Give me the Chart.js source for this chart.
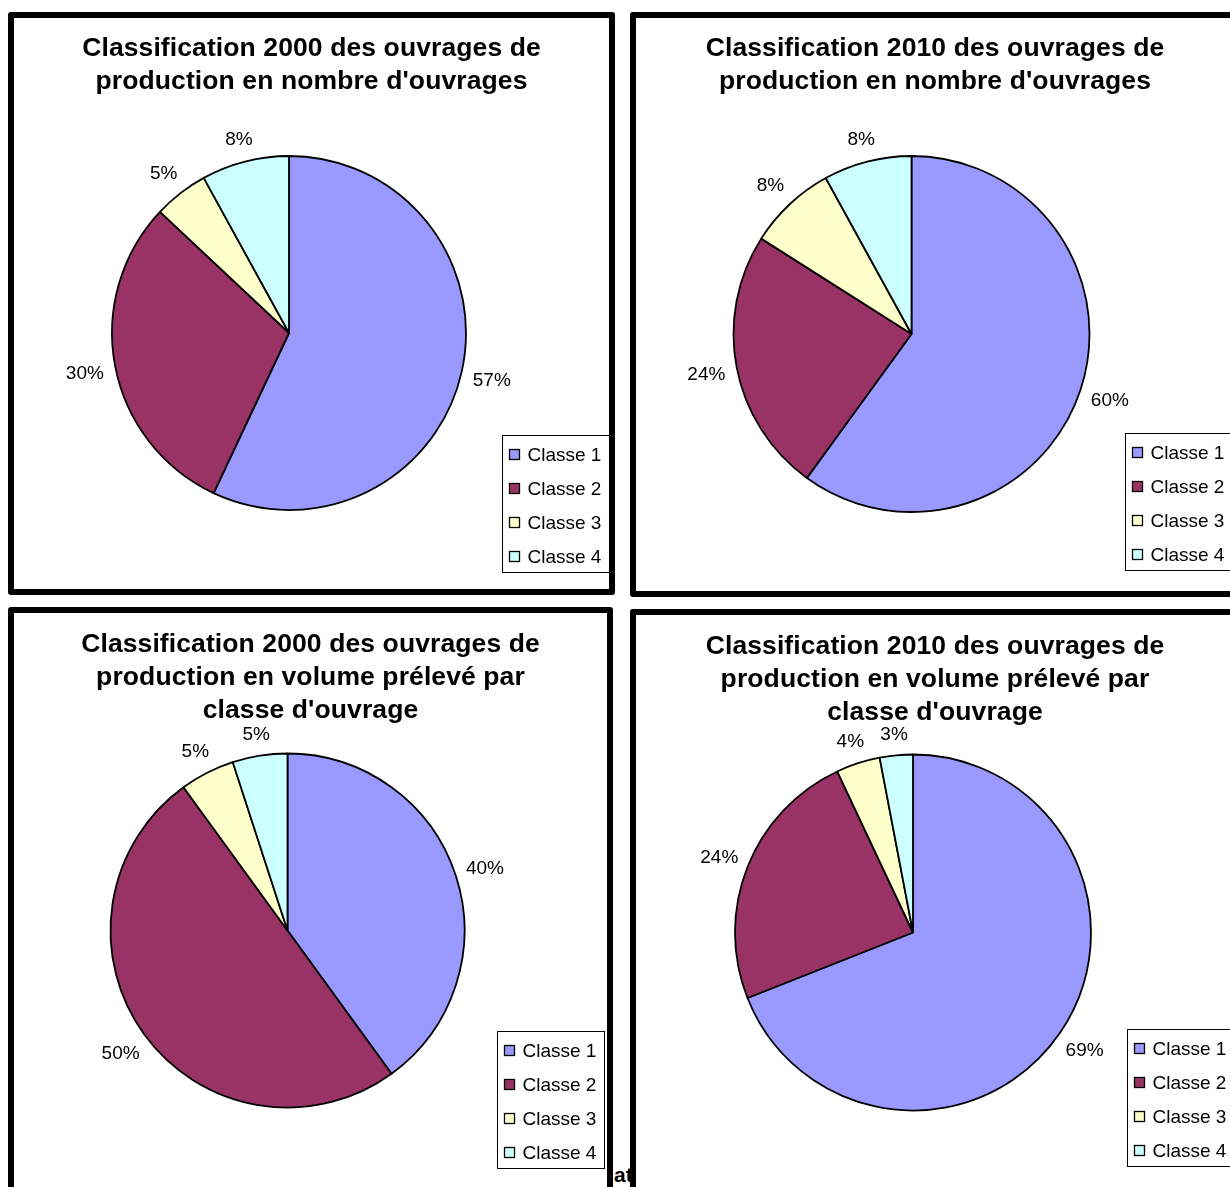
<!DOCTYPE html>
<html lang="fr">
<head>
<meta charset="utf-8">
<title>Classification des ouvrages de production</title>
<script src="https://cdn.jsdelivr.net/npm/chart.js@4.4.1/dist/chart.umd.min.js"></script>
<style>
  html, body { margin: 0; padding: 0; background: #fff; }
  body {
    position: relative; width: 1230px; height: 1187px; overflow: hidden;
    font-family: 'Liberation Sans', Arial, sans-serif; color: #000;
  }
  .panel {
    position: absolute; box-sizing: border-box; border: 6px solid #000;
    border-radius: 3px; background: #fff; overflow: hidden; z-index: 1;
  }
  .panel canvas { position: absolute; left: 0; top: 0; }
  .panel .title {
    position: absolute; left: 0; right: 0; text-align: center; white-space: nowrap;
    font-weight: bold; font-size: 26.5px; letter-spacing: 0.1px; line-height: 33px; z-index: 2;
  }
  .stray {
    position: absolute; left: 614px; top: 1163px; z-index: 0;
    font-weight: bold; font-size: 21px;
  }
</style>
</head>
<body>
<div class="stray">at</div>
<script>
// Classes d'ouvrages
const categories = ['Classe 1', 'Classe 2', 'Classe 3', 'Classe 4'];
const classColors = ['#9999FF', '#993366', '#FFFFCC', '#CCFFFF'];

// Parts (%) par classe
const nombre2000 = [57, 30, 5, 8];
const nombre2010 = [60, 24, 8, 8];
const volume2000 = [40, 50, 5, 5];
const volume2010 = [69, 24, 4, 3];

const titles = [
  ['Classification 2000 des ouvrages de', "production en nombre d'ouvrages"],
  ['Classification 2010 des ouvrages de', "production en nombre d'ouvrages"],
  ['Classification 2000 des ouvrages de', 'production en volume prélevé par', "classe d'ouvrage"],
  ['Classification 2010 des ouvrages de', 'production en volume prélevé par', "classe d'ouvrage"]
];

const FONT = "'Liberation Sans', Arial, sans-serif";
const BORDER = 6;

// Panel frames and pie placement, in page pixels
const panels = [
  { values: nombre2000, title: titles[0], left: 8,   top: 12,  width: 607, height: 583, titleTop: 12.5, cx: 289,   cy: 333,   r: 177, legend: { x: 502.5,  y: 435.5 } },
  { values: nombre2010, title: titles[1], left: 630, top: 12,  width: 610, height: 585, titleTop: 12.5, cx: 911.5, cy: 334,   r: 178, legend: { x: 1125.5, y: 433.5 } },
  { values: volume2000, title: titles[2], left: 8,   top: 607, width: 605, height: 600, titleTop: 13.5, cx: 287.5, cy: 930.5, r: 177, legend: { x: 497.5,  y: 1031.5 } },
  { values: volume2010, title: titles[3], left: 630, top: 609, width: 610, height: 600, titleTop: 13.5, cx: 913,   cy: 932.5, r: 178, legend: { x: 1127.5, y: 1029.5 } }
];

// Percentage labels just outside each slice
const sliceLabels = {
  id: 'sliceLabels',
  afterDatasetsDraw(chart) {
    const ctx = chart.ctx;
    const ds = chart.data.datasets[0];
    const meta = chart.getDatasetMeta(0);
    ctx.save();
    ctx.font = '19px ' + FONT;
    ctx.fillStyle = '#000';
    ctx.textAlign = 'center';
    ctx.textBaseline = 'middle';
    meta.data.forEach((arc, i) => {
      const p = arc.getProps(['x', 'y', 'startAngle', 'endAngle', 'outerRadius'], true);
      const mid = (p.startAngle + p.endAngle) / 2;
      const c = Math.cos(mid), s = Math.sin(mid);
      const dist = p.outerRadius + 22 + 9 * Math.abs(c);
      ctx.fillText(ds.data[i] + '%', p.x + c * dist, p.y + s * dist + 2);
    });
    ctx.restore();
  }
};

// Framed legend with square swatches
const boxedLegend = {
  id: 'boxedLegend',
  afterDraw(chart, args, opts) {
    const ctx = chart.ctx;
    const items = Chart.overrides.pie.plugins.legend.labels.generateLabels(chart);
    const x = opts.x, y = opts.y;
    ctx.save();
    ctx.lineWidth = 1;
    ctx.strokeStyle = '#000';
    ctx.strokeRect(x, y, 107, 137);
    ctx.font = '19px ' + FONT;
    ctx.textAlign = 'left';
    ctx.textBaseline = 'middle';
    items.forEach((it, i) => {
      const yc = y + 19 + i * 34;
      ctx.fillStyle = it.fillStyle;
      ctx.fillRect(x + 7, yc - 5, 10, 10);
      ctx.lineWidth = 1.3;
      ctx.strokeStyle = '#000';
      ctx.strokeRect(x + 7, yc - 5, 10, 10);
      ctx.fillStyle = '#000';
      ctx.fillText(it.text, x + 25, yc + 1);
    });
    ctx.restore();
  }
};

panels.forEach(p => {
  const frame = document.createElement('div');
  frame.className = 'panel';
  Object.assign(frame.style, {
    left: p.left + 'px', top: p.top + 'px', width: p.width + 'px', height: p.height + 'px'
  });
  const title = document.createElement('div');
  title.className = 'title';
  title.style.top = p.titleTop + 'px';
  title.innerHTML = p.title.join('<br>');
  frame.appendChild(title);

  const W = p.width - 2 * BORDER, H = p.height - 2 * BORDER;
  const ox = p.left + BORDER, oy = p.top + BORDER;
  const canvas = document.createElement('canvas');
  canvas.width = W; canvas.height = H;
  canvas.style.width = W + 'px'; canvas.style.height = H + 'px';
  frame.appendChild(canvas);
  document.body.appendChild(frame);

  const cx = p.cx - ox, cy = p.cy - oy, half = p.r + 2;
  new Chart(canvas, {
    type: 'pie',
    data: {
      labels: categories,
      datasets: [{
        data: p.values,
        backgroundColor: classColors,
        borderColor: '#000',
        borderWidth: 1.8
      }]
    },
    options: {
      responsive: false,
      animation: false,
      devicePixelRatio: 1,
      radius: p.r,
      layout: { padding: { left: cx - half, right: W - cx - half, top: cy - half, bottom: H - cy - half } },
      plugins: {
        legend: { display: false },
        title: { display: false },
        tooltip: { enabled: false },
        boxedLegend: { x: p.legend.x - ox, y: p.legend.y - oy }
      }
    },
    plugins: [sliceLabels, boxedLegend]
  });
});
</script>
</body>
</html>
